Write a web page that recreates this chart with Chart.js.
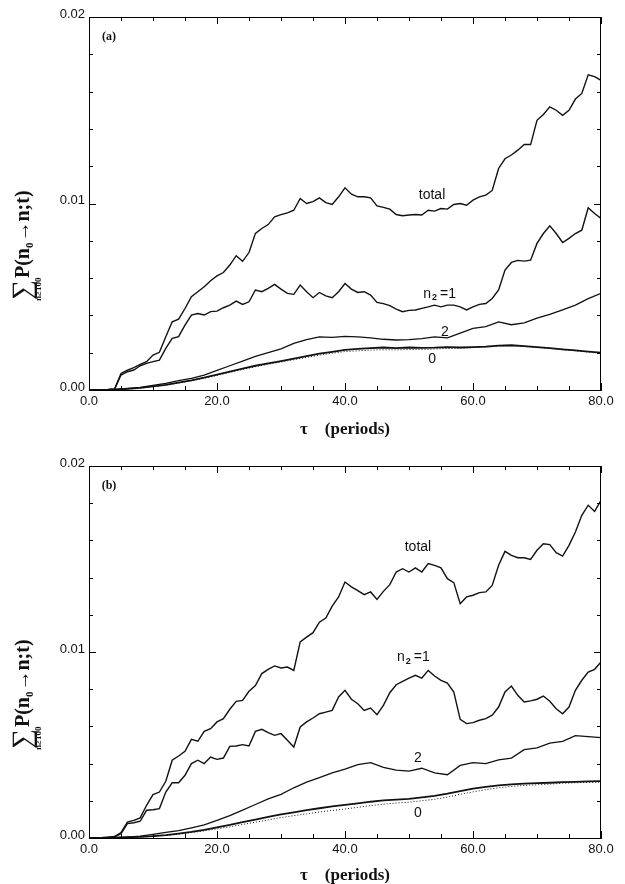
<!DOCTYPE html>
<html lang="en">
  <head>
    <title>Transition probability vs time</title>
    <script src="https://cdn.jsdelivr.net/npm/chart.js"></script>
    <style>
      body { margin: 0; background: #fff; }
      canvas { position: absolute; left: 0; }
    </style>
  </head>
  <body>
    <canvas id="chartA" width="625" height="440" style="top:0px;width:625px;height:440px"></canvas>
    <canvas id="chartB" width="625" height="444" style="top:440px;width:625px;height:444px"></canvas>

    <script>
      // time axis (periods), fine grid for the noisy curves, coarse for the smooth ones
      const tau = [0,1,2,3,4,5,6,7,8,9,10,11,12,13,14,15,16,17,18,19,20,21,22,23,24,25,26,27,28,29,30,
        31,32,33,34,35,36,37,38,39,40,41,42,43,44,45,46,47,48,49,50,51,52,53,54,55,56,57,58,59,60,
        61,62,63,64,65,66,67,68,69,70,71,72,73,74,75,76,77,78,79,80];
      const tauCoarse = [0,2,4,6,8,10,12,14,16,18,20,22,24,26,28,30,32,34,36,38,40,
        42,44,46,48,50,52,54,56,58,60,62,64,66,68,70,72,74,76,78,80];

      // values in units of 1e-3
      // panel (a)
      const totalA = [0,0.01,0.02,0.03,0.05,0.89,1.07,1.2,1.37,1.52,1.87,2.02,2.86,3.66,3.8,4.37,5.0,5.27,5.54,5.86,
        6.12,6.3,6.7,7.2,6.9,7.37,8.4,8.66,8.87,9.29,9.4,9.5,9.64,10.27,10.0,10.1,10.3,10.05,9.95,10.36,
        10.84,10.5,10.36,10.36,10.3,9.87,9.79,9.7,9.41,9.34,9.38,9.41,9.38,9.64,9.59,9.73,9.7,9.95,10.0,9.91,
        10.18,10.36,10.45,10.7,11.88,12.4,12.6,12.86,13.16,13.16,14.46,14.77,15.18,15.0,14.73,15.0,15.6,15.9,16.9,16.8,16.6];
      const one_A = [0,0.01,0.02,0.03,0.05,0.8,0.98,1.07,1.3,1.43,1.52,1.6,2.23,2.77,2.86,3.48,4.02,4.1,4.02,4.2,
        4.23,4.41,4.55,4.77,4.59,4.73,5.36,5.27,5.45,5.66,5.41,5.18,5.13,5.63,5.27,4.95,5.23,5.05,4.95,5.27,
        5.71,5.41,5.23,5.27,5.09,4.7,4.63,4.52,4.34,4.2,4.27,4.29,4.38,4.46,4.55,4.46,4.55,4.55,4.46,4.29,
        4.46,4.59,4.64,4.91,5.36,6.43,6.84,6.95,6.91,6.96,7.86,8.39,8.8,8.39,7.91,8.13,8.39,8.57,9.77,9.46,9.2];
      const two_A = [0,0.01,0.03,0.08,0.14,0.25,0.35,0.5,0.62,0.8,1.05,1.3,1.55,1.8,2.0,2.2,2.5,2.7,2.85,2.82,
        2.88,2.85,2.8,2.72,2.68,2.7,2.76,2.85,2.8,3.05,3.3,3.4,3.65,3.5,3.6,3.85,4.05,4.3,4.55,4.9,5.18];
      const zero_A = [0,0.01,0.02,0.06,0.11,0.2,0.28,0.4,0.52,0.66,0.82,0.98,1.15,1.3,1.43,1.55,1.68,1.82,1.95,2.05,
        2.15,2.2,2.24,2.28,2.25,2.28,2.26,2.27,2.3,2.28,2.3,2.33,2.38,2.4,2.35,2.3,2.25,2.18,2.12,2.06,2.0];
      const dotted_A = [0,0.01,0.02,0.05,0.1,0.18,0.26,0.38,0.5,0.63,0.78,0.94,1.1,1.25,1.38,1.5,1.62,1.75,1.87,1.97,
        2.06,2.1,2.14,2.16,2.15,2.17,2.17,2.2,2.23,2.24,2.27,2.3,2.35,2.37,2.33,2.28,2.23,2.16,2.1,2.04,1.98];

      // panel (b)
      const totalB = [0,0.01,0.02,0.04,0.08,0.29,0.86,0.95,1.08,1.76,2.33,2.47,3.05,4.18,4.41,4.66,5.3,5.2,5.73,5.88,
        6.24,6.42,6.92,7.35,7.4,7.89,8.2,8.84,9.07,9.25,9.14,9.19,9.01,10.54,10.8,11.04,11.6,11.83,12.47,12.96,
        13.76,13.5,13.3,13.08,13.23,12.83,13.26,13.62,14.3,14.48,14.3,14.52,14.3,14.75,14.66,14.52,13.94,13.73,12.6,12.96,
        13.05,13.19,13.23,13.58,14.66,15.41,15.2,15.07,15.07,14.98,15.47,15.82,15.77,15.34,15.16,15.73,16.45,17.35,17.89,17.56,18.15];
      const one_B = [0,0.01,0.02,0.04,0.07,0.23,0.77,0.82,0.9,1.49,1.52,1.58,2.47,2.97,2.97,3.37,4.0,4.18,4.0,4.35,
        4.23,4.3,4.93,4.95,5.02,4.95,5.73,5.84,5.66,5.52,5.61,5.25,4.89,5.97,6.24,6.45,6.68,6.77,6.86,7.58,
        7.94,7.46,7.22,6.86,6.99,6.63,7.13,7.81,8.24,8.42,8.6,8.75,8.6,9.01,8.71,8.48,8.33,7.85,6.38,6.15,
        6.2,6.33,6.42,6.6,7.04,7.85,8.17,7.67,7.31,7.37,7.46,7.63,7.35,6.95,6.68,7.04,7.94,8.48,8.92,9.07,9.46];
      const two_B = [0,0.01,0.02,0.05,0.1,0.2,0.3,0.4,0.55,0.7,0.95,1.2,1.5,1.8,2.1,2.35,2.7,3.0,3.25,3.5,
        3.7,3.95,4.05,3.8,3.65,3.6,3.75,3.5,3.4,3.9,4.05,4.0,4.2,4.3,4.75,4.85,5.1,5.2,5.5,5.45,5.4];
      const zero_B = [0,0.01,0.02,0.04,0.06,0.1,0.16,0.24,0.33,0.44,0.57,0.7,0.85,0.99,1.13,1.27,1.38,1.5,1.6,1.7,
        1.78,1.86,1.95,2.02,2.06,2.1,2.18,2.26,2.38,2.52,2.65,2.75,2.83,2.88,2.92,2.95,2.97,3.0,3.02,3.04,3.06];
      const dotted_B = [0,0.01,0.02,0.03,0.05,0.09,0.14,0.21,0.29,0.38,0.49,0.6,0.73,0.85,0.97,1.1,1.2,1.3,1.4,1.48,
        1.56,1.65,1.74,1.82,1.88,1.93,2.0,2.08,2.2,2.35,2.48,2.6,2.7,2.77,2.83,2.86,2.9,2.94,2.97,2.99,3.0];

      // curve labels: [text, tau, value]
      const labelsA = [["total", 53.6, 10.45], ["n=1", 55.2, 5.15], ["2", 55.6, 3.1], ["0", 53.6, 1.66]];
      const labelsB = [["total", 51.4, 15.65], ["n=1", 51.1, 9.73], ["2", 51.4, 4.3], ["0", 51.4, 1.34]];

      const INK = "#111";
      const serif = "'Liberation Serif', 'DejaVu Serif', serif";
      const sans = "'Liberation Sans', Arial, sans-serif";

      function pts(xs, ys) {
        return xs.map((x, i) => ({ x: x, y: ys[i] }));
      }

      // box around the plot + inward ticks on all four sides
      const frameTicks = {
        id: "frameTicks",
        afterDatasetsDraw(chart) {
          const { ctx, chartArea: a, scales } = chart;
          const xs = scales.x, ys = scales.y;
          ctx.save();
          ctx.strokeStyle = "#000";
          ctx.lineWidth = 1;
          ctx.strokeRect(a.left + 0.5, a.top + 0.5, a.right - a.left - 1, a.bottom - a.top);
          ctx.beginPath();
          for (let v = 0; v <= 80; v += 5) {
            const px = Math.round(xs.getPixelForValue(v)) + 0.5;
            const len = v % 20 === 0 ? 7 : 4;
            ctx.moveTo(px, a.bottom); ctx.lineTo(px, a.bottom - len);
            ctx.moveTo(px, a.top); ctx.lineTo(px, a.top + len);
          }
          for (let v = 0; v <= 20; v += 2) {
            const py = Math.round(ys.getPixelForValue(v)) + 0.5;
            const len = v % 10 === 0 ? 7 : 4;
            ctx.moveTo(a.left, py); ctx.lineTo(a.left + len, py);
            ctx.moveTo(a.right, py); ctx.lineTo(a.right - len, py);
          }
          ctx.stroke();
          ctx.restore();
        },
      };

      // panel letter, curve labels, rotated y title
      const panelText = {
        id: "panelText",
        afterDraw(chart, args, opts) {
          const { ctx, chartArea: a, scales } = chart;
          ctx.save();
          ctx.fillStyle = INK;
          ctx.textBaseline = "middle";
          ctx.textAlign = "center";
          ctx.font = "bold 12px " + serif;
          ctx.fillText("(" + opts.letter + ")", a.left + 20, a.top + 20);

          ctx.font = "14px " + sans;
          opts.labels.forEach(([txt, t, v]) => {
            const x = scales.x.getPixelForValue(t);
            const y = scales.y.getPixelForValue(v);
            if (txt === "n=1") {
              ctx.textAlign = "left";
              const w = ctx.measureText("n").width;
              const x0 = x - 19;
              ctx.fillText("n", x0, y);
              ctx.font = "bold 9px " + sans;
              ctx.fillText("2", x0 + w + 1, y + 4);
              ctx.font = "14px " + sans;
              ctx.fillText("=1", x0 + w + 9, y);
              ctx.textAlign = "center";
            } else {
              ctx.fillText(txt, x, y);
            }
          });

          // y title: sum over n>=100 of P(n0 -> n; t), written bottom-to-top
          ctx.translate(opts.titleX, opts.titleY);
          ctx.rotate(-Math.PI / 2);
          ctx.textAlign = "left";
          ctx.textBaseline = "alphabetic";
          ctx.font = "28px " + serif;
          ctx.fillText("\u2211", 0, 2);
          const sw = ctx.measureText("\u2211").width;
          ctx.font = "bold 9px " + serif;
          ctx.fillText("n\u2265100", -1, 12);
          let u = sw + 2;
          ctx.font = "bold 20px " + serif;
          ctx.fillText("P(n", u, 0);
          u += ctx.measureText("P(n").width;
          ctx.font = "bold 11px " + serif;
          ctx.fillText("0", u, 4);
          u += ctx.measureText("0").width + 1;
          ctx.font = "bold 20px " + serif;
          ctx.fillText("\u2192n;t)", u, 0);
          ctx.restore();
        },
      };

      function makePanel(id, letter, series, labels, geom) {
        const ctx = document.getElementById(id).getContext("2d");
        const line = (data, width, dash) => ({
          data: data,
          borderColor: INK,
          borderWidth: width,
          borderDash: dash || [],
          pointRadius: 0,
          tension: 0,
          fill: false,
        });
        return new Chart(ctx, {
          type: "line",
          data: {
            datasets: [
              line(pts(tauCoarse, series.dotted), 1, [1, 2]),
              line(pts(tauCoarse, series.zero), 1.8),
              line(pts(tauCoarse, series.two), 1.3),
              line(pts(tau, series.one), 1.4),
              line(pts(tau, series.total), 1.4),
            ],
          },
          options: {
            responsive: false,
            animation: false,
            events: [],
            layout: { padding: { top: geom.top, right: 24, left: 0, bottom: 0 } },
            plugins: {
              legend: { display: false },
              tooltip: { enabled: false },
              panelText: { letter: letter, labels: labels, titleX: 29, titleY: geom.titleY },
            },
            scales: {
              x: {
                type: "linear",
                min: 0,
                max: 80,
                afterFit: (s) => { s.height = geom.axisH; },
                grid: { display: true, drawOnChartArea: false, drawTicks: false },
                border: { display: true, color: "#000", width: 1 },
                ticks: {
                  stepSize: 20,
                  padding: 4,
                  color: "#111",
                  font: { family: sans, size: 13 },
                  callback: (v) => v.toFixed(1),
                },
                title: {
                  display: true,
                  text: "\u03c4    (periods)",
                  color: INK,
                  font: { family: serif, size: 17, weight: "bold", lineHeight: 1 },
                  padding: { top: 0, bottom: geom.titlePad },
                },
              },
              y: {
                type: "linear",
                min: 0,
                max: 20,
                afterFit: (s) => { s.width = 89; },
                grid: { display: true, drawOnChartArea: false, drawTicks: false },
                border: { display: true, color: "#000", width: 1 },
                ticks: {
                  stepSize: 10,
                  padding: 4,
                  labelOffset: -3,
                  color: "#111",
                  font: { family: sans, size: 13 },
                  callback: (v) => (v / 1000).toFixed(2),
                },
              },
            },
          },
          plugins: [frameTicks, panelText],
        });
      }

      makePanel("chartA", "a",
        { total: totalA, one: one_A, two: two_A, zero: zero_A, dotted: dotted_A },
        labelsA, { top: 17, axisH: 50, titlePad: 1.5, titleY: 300 });
      makePanel("chartB", "b",
        { total: totalB, one: one_B, two: two_B, zero: zero_B, dotted: dotted_B },
        labelsB, { top: 26, axisH: 46, titlePad: 0, titleY: 309 });
    </script>
  </body>
</html>
